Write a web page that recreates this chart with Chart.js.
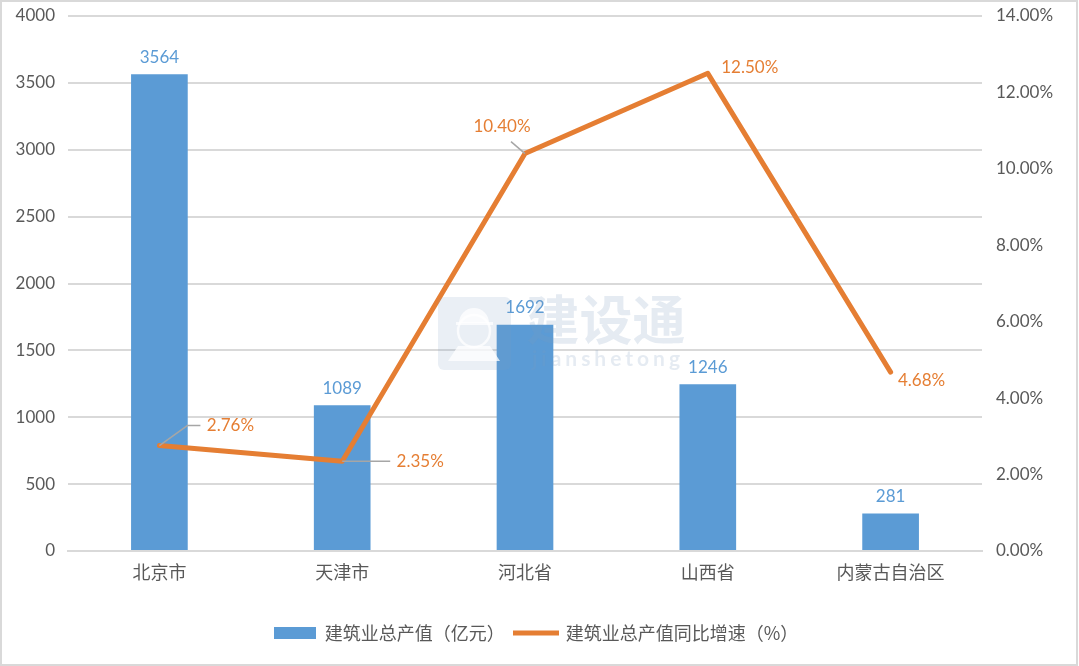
<!DOCTYPE html>
<html><head><meta charset="utf-8">
<style>html,body{margin:0;padding:0;background:#fff}#w{width:1079px;height:666px;position:relative}</style>
<script src="https://cdn.jsdelivr.net/npm/chart.js@4"></script>
</head><body><div id="w"><canvas id="c" width="1079" height="666"></canvas></div>
<script>
const categories = ['北京市','天津市','河北省','山西省','内蒙古自治区'];
const outputValues = [3564,1089,1692,1246,281];
const growthValues = [2.76,2.35,10.40,12.50,4.68];
const barName = '建筑业总产值（亿元）';
const lineName = '建筑业总产值同比增速（%）';
const FONT = '"Noto Sans CJK SC","Noto Sans",sans-serif';
const LATIN = 'Lato,"Noto Sans",sans-serif';
const BLUE='#5B9BD5', ORANGE='#E57E33', GREY='#595959', GRID='#D9D9D9';

function swatch(w,h,color){const s=document.createElement('canvas');s.width=w;s.height=14;const x=s.getContext('2d');x.fillStyle=color;x.fillRect(0,(14-h)/2,w,h);return s;}

// offsets of each label's centre from its point, and leader elbows
const lineLabelOffset=[[71,-20],[78,0],[-23,-27],[42,-6],[31,8]];
const leaders=[[[28,-20],[41,-20]],[[48,0]],[[-14,-12]],null,null];

const decorations={id:'decorations',
 beforeDraw(ch){const c=ch.ctx;c.save();c.fillStyle='#fff';c.fillRect(0,0,ch.width,ch.height);c.strokeStyle=GRID;c.lineWidth=2;c.strokeRect(1,1,ch.width-3,ch.height-2);c.restore();},
 afterDatasetsDraw(ch){
  const c=ch.ctx;const bars=ch.getDatasetMeta(0).data,pts=ch.getDatasetMeta(1).data;
  c.save();
  c.strokeStyle='#A6A6A6';c.lineWidth=1.5;
  pts.forEach((p,i)=>{if(!leaders[i])return;c.beginPath();c.moveTo(p.x,p.y);leaders[i].forEach(o=>c.lineTo(p.x+o[0],p.y+o[1]));c.stroke();});
  c.textAlign='center';c.textBaseline='middle';c.font='17px '+LATIN;
  c.fillStyle=BLUE;
  bars.forEach((b,i)=>c.fillText(String(outputValues[i]),b.x,b.y-17));
  c.fillStyle=ORANGE;
  pts.forEach((p,i)=>c.fillText(growthValues[i].toFixed(2)+'%',p.x+lineLabelOffset[i][0],p.y+lineLabelOffset[i][1]));
  // watermark
  c.globalAlpha=0.16;c.fillStyle='#7F9DBE';
  c.beginPath();c.roundRect(438,297,73,73,6);c.fill();
  c.globalAlpha=0.75;c.fillStyle='#fff';c.strokeStyle='#fff';c.lineWidth=2.5;
  c.beginPath();c.arc(474,331,16,0,Math.PI*2);c.stroke();
  c.beginPath();c.arc(474,323,15,Math.PI,0);c.fill();
  c.fillRect(456,322,37,3);
  c.beginPath();c.moveTo(448,361);c.lineTo(458,346);c.lineTo(490,346);c.lineTo(500,361);c.closePath();c.fill();
  c.globalAlpha=0.2;c.fillStyle='#7F9DBE';
  c.textAlign='center';c.font='bold 53px '+FONT;c.fillText('建设通',606,320);
  c.font='bold 21px '+LATIN;c.letterSpacing='4px';c.fillText('jianshetong',608,359);
  c.restore();
 }};

const fitY=(w)=>(s)=>{s.width=w;s.paddingTop=0;s.paddingBottom=0;};
new Chart(document.getElementById('c'),{
 data:{labels:categories,datasets:[
  {type:'bar',label:barName,data:outputValues,yAxisID:'y',backgroundColor:BLUE,barPercentage:0.31,categoryPercentage:1,order:2},
  {type:'line',label:lineName,data:growthValues,yAxisID:'y1',borderColor:ORANGE,borderWidth:5,backgroundColor:ORANGE,pointRadius:0,tension:0,borderCapStyle:'round',borderJoinStyle:'round',order:1}
 ]},
 options:{responsive:false,animation:false,
  layout:{padding:{top:16,left:0,right:7,bottom:14}},
  plugins:{tooltip:{enabled:false},
   legend:{position:'bottom',labels:{usePointStyle:true,pointStyleWidth:42,padding:10,color:GREY,font:{family:FONT,size:18},
     generateLabels(){return [
       {text:barName,pointStyle:swatch(42,12,BLUE),fontColor:GREY,datasetIndex:0},
       {text:lineName,pointStyle:swatch(46,5,ORANGE),fontColor:GREY,datasetIndex:1}];}}}},
  scales:{
   x:{grid:{display:false},border:{color:GRID,width:2},
      ticks:{color:GREY,font:{family:FONT,size:18},padding:2,maxRotation:0},
      afterFit(s){s.height=63;}},
   y:{position:'left',min:0,max:4000,
      grid:{color:GRID,lineWidth:2,drawTicks:false},border:{display:false},
      ticks:{stepSize:500,color:GREY,font:{family:LATIN,size:17},padding:13,callback:v=>String(v)},
      afterFit:fitY(68)},
   y1:{position:'right',min:0,max:14,
      grid:{display:false,drawTicks:false},border:{display:false},
      ticks:{stepSize:2,color:GREY,font:{family:LATIN,size:17},padding:14,callback:v=>v.toFixed(2)+'%'},
      afterFit:fitY(90)}
  }},
 plugins:[decorations]
});
</script></body></html>
